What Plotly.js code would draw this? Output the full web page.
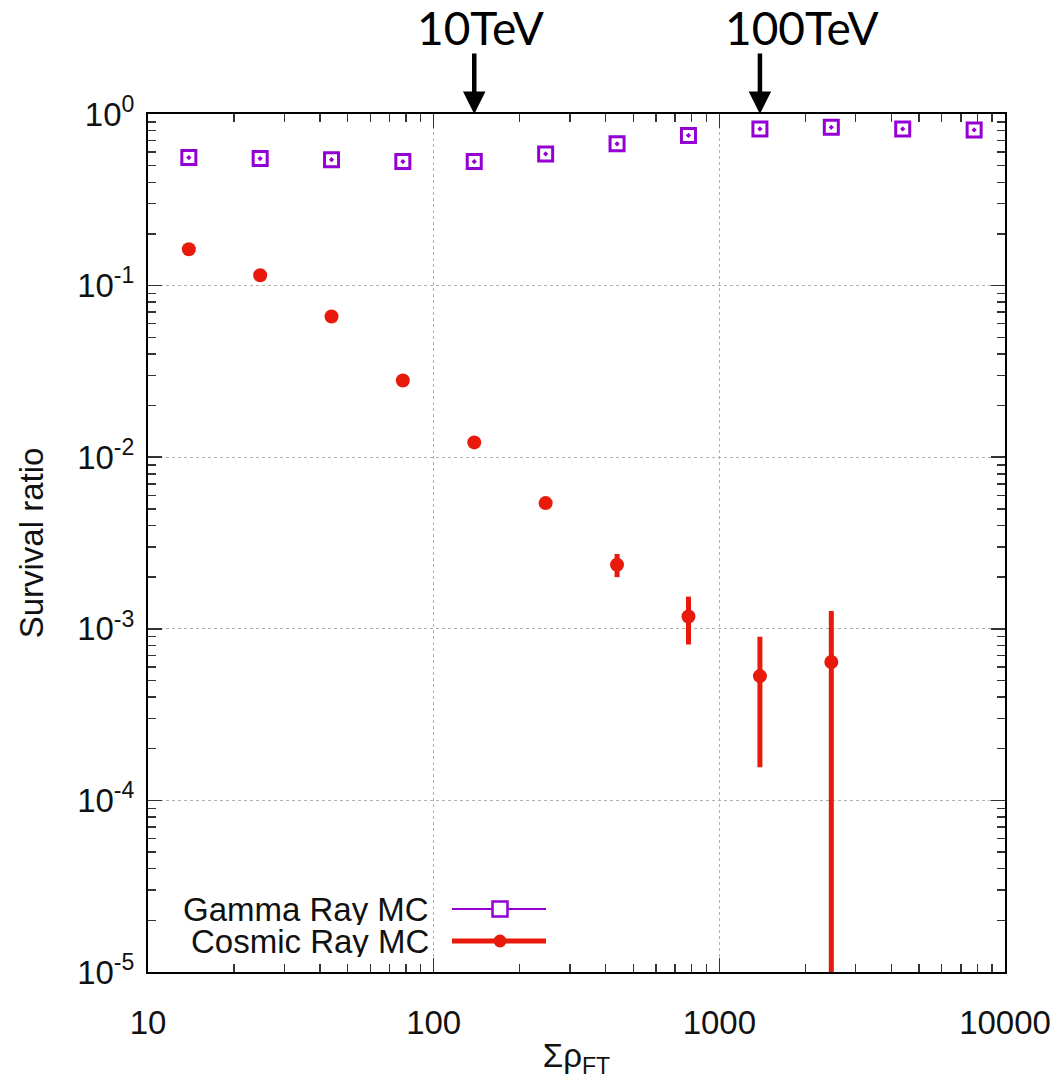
<!DOCTYPE html>
<html>
<head>
<meta charset="utf-8">
<script src="https://cdn.plot.ly/plotly-3.0.1.min.js"></script>
<style>html,body{margin:0;padding:0;background:#fff;}#chart{width:1059px;height:1081px;}</style>
</head>
<body>
<div id="chart"></div>
<script>
// ---- data ----
var binCenters = [13.9, 24.7, 43.9, 78.0, 138.7, 246.6, 438.5, 779.8, 1387, 2466, 4385, 7798];
var gammaRatio = [0.557, 0.550, 0.542, 0.528, 0.528, 0.585, 0.670, 0.750, 0.818, 0.837, 0.818, 0.807];
var cosmicX = [13.9, 24.7, 43.9, 78.0, 138.7, 246.6, 438.5, 779.8, 1387, 2466];
var cosmicRatio = [0.163, 0.115, 0.066, 0.028, 0.0122, 0.0054, 0.00236, 0.00118, 0.00053, 0.00064];
var cosmicErrPlus = [0, 0, 0, 0, 0, 0, 0.00037, 0.00036, 0.00037, 0.00063];
var cosmicErrMinus = [0, 0, 0, 0, 0, 0, 0.00036, 0.00037, 0.000374, 0.000639];
var xTickVals = [10, 100, 1000, 10000];
var xTickText = ['10', '100', '1000', '10000'];
var yTickVals = [1, 0.1, 0.01, 0.001, 0.0001, 0.00001];
var yTickText = ['10<sup>0</sup>', '10<sup>-1</sup>', '10<sup>-2</sup>', '10<sup>-3</sup>', '10<sup>-4</sup>', '10<sup>-5</sup>'];
var energyLabels = ['10TeV', '100TeV'];
var energyBinIndex = [4, 8];
var seriesNames = ['Gamma Ray MC', 'Cosmic Ray MC'];

var purple = '#9400D3';
var red = '#E81A0C';

// minor tick positions (2..9 per decade)
function minorTicks(lo, hi) {
  var out = [];
  for (var e = lo; e < hi; e++) {
    for (var m = 2; m <= 9; m++) out.push(m * Math.pow(10, e));
  }
  return out;
}

var traces = [
  {
    x: binCenters, y: gammaRatio, type: 'scatter', mode: 'markers', name: seriesNames[0],
    marker: {symbol: 'square-open-dot', size: 14, color: purple, line: {width: 3, color: purple}},
    showlegend: false
  },
  {
    x: cosmicX, y: cosmicRatio, type: 'scatter', mode: 'markers', name: seriesNames[1],
    marker: {symbol: 'circle', size: 14, color: red},
    error_y: {type: 'data', symmetric: false, array: cosmicErrPlus, arrayminus: cosmicErrMinus,
              color: red, thickness: 5, width: 0},
    showlegend: false
  }
];

var fontMain = 'Liberation Sans, Arial, Helvetica, sans-serif';
var L = 148, R = 1005, T = 114, B = 972;
function px(p) { return (p - L) / (R - L); }
function py(p) { return (B - p) / (B - T); }

var labelCentersPx = [480, 802];

var annotations = [
  {xref: 'paper', yref: 'paper', x: px(431), y: py(909), xanchor: 'right', yanchor: 'middle',
   height: 31, valign: 'middle',
   text: seriesNames[0], showarrow: false, font: {family: fontMain, size: 33, color: '#111'}},
  {xref: 'paper', yref: 'paper', x: px(431), y: py(941), xanchor: 'right', yanchor: 'middle',
   height: 31, valign: 'middle',
   text: seriesNames[1], showarrow: false, font: {family: fontMain, size: 33, color: '#111'}}
];
energyBinIndex.forEach(function (bi, k) {
  annotations.push({
    xref: 'x', yref: 'paper', x: Math.log10(binCenters[bi]), y: 1, ax: 0, ay: -62,
    text: '', showarrow: true, arrowhead: 2, arrowsize: 1, arrowwidth: 4.5, arrowcolor: '#000', standoff: 0
  });
  annotations.push({
    xref: 'paper', yref: 'paper', x: px(labelCentersPx[k]), y: py(28), xanchor: 'center', yanchor: 'middle',
    text: energyLabels[k], showarrow: false, font: {family: 'Lato, Open Sans, sans-serif', size: 46, color: '#000'}
  });
});

var shapes = [
  {type: 'line', xref: 'paper', yref: 'paper', x0: px(452), x1: px(546), y0: py(909), y1: py(909),
   line: {color: purple, width: 2}},
  {type: 'rect', xref: 'paper', yref: 'paper', x0: px(492.5), x1: px(507.5), y0: py(916.5), y1: py(901.5),
   line: {color: purple, width: 2.5}, fillcolor: '#fff'},
  {type: 'line', xref: 'paper', yref: 'paper', x0: px(452), x1: px(546), y0: py(941), y1: py(941),
   line: {color: red, width: 5}},
  {type: 'circle', xref: 'paper', yref: 'paper', x0: px(493.5), x1: px(506.5), y0: py(947.5), y1: py(934.5),
   line: {color: red, width: 0}, fillcolor: red}
];

var axisCommon = {
  type: 'log', showline: true, linecolor: '#000', linewidth: 2, mirror: 'allticks',
  ticks: 'inside', ticklen: 14, tickwidth: 1.5, tickcolor: '#333',
  showgrid: true, gridcolor: '#b0b0b0', gridwidth: 1, griddash: 'dot', zeroline: false,
  tickfont: {family: fontMain, size: 33, color: '#111'}, tickmode: 'array'
};

var layout = {
  width: 1059, height: 1081,
  margin: {l: L, r: 1059 - R, t: T, b: 1081 - B, pad: 0},
  paper_bgcolor: '#fff', plot_bgcolor: '#fff',
  showlegend: false,
  xaxis: Object.assign({}, axisCommon, {
    range: [1, 4], tickvals: xTickVals, ticktext: xTickText, ticklabelstandoff: 20,
    minor: {tickmode: 'array', tickvals: minorTicks(1, 4), ticks: 'inside', ticklen: 8, tickwidth: 1.5, tickcolor: '#333', showgrid: false},
    title: {text: 'Σρ<sub>FT</sub>', font: {family: fontMain, size: 33, color: '#111'}, standoff: 4}
  }),
  yaxis: Object.assign({}, axisCommon, {
    range: [-5, 0], tickvals: yTickVals, ticktext: yTickText, ticklabelstandoff: 5,
    minor: {tickmode: 'array', tickvals: minorTicks(-5, 0), ticks: 'inside', ticklen: 8, tickwidth: 1.5, tickcolor: '#333', showgrid: false},
    title: {text: 'Survival ratio', font: {family: fontMain, size: 33, color: '#111'}, standoff: 24}
  }),
  annotations: annotations,
  shapes: shapes
};

Plotly.newPlot('chart', traces, layout, {displayModeBar: false, staticPlot: true});
</script>
</body>
</html>
